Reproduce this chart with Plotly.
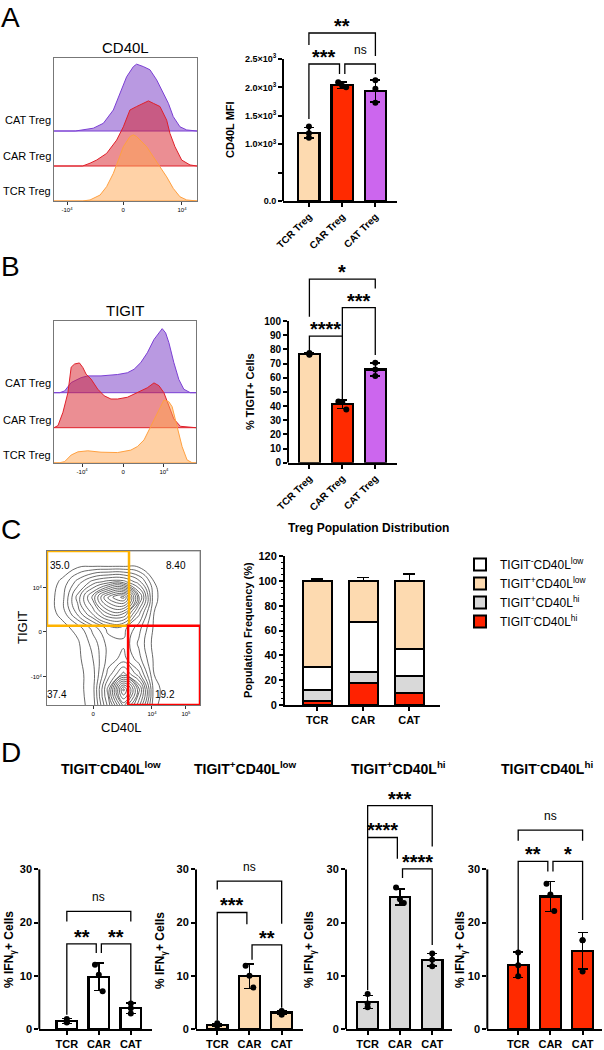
import plotly.graph_objects as go

W, H = 604, 1050
FONT = "Liberation Sans, Arial, sans-serif"

# ---------------- data ----------------
groups = ["TCR Treg", "CAR Treg", "CAT Treg"]
groups_short = ["TCR", "CAR", "CAT"]

# A - CD40L histograms (x: display channel 0-1000, h: height in row units)
cd40l_cat_x = [0, 150, 275, 345, 415, 462, 508, 555, 578, 625, 671, 718, 765, 800, 834, 881, 928, 1000]
cd40l_cat_h = [0, 0, 0.08, 0.22, 0.60, 1.07, 1.55, 1.84, 1.91, 1.84, 1.75, 1.46, 1.07, 0.79, 0.41, 0.12, 0.03, 0]
cd40l_car_x = [0, 200, 252, 298, 368, 438, 485, 531, 578, 625, 660, 695, 741, 788, 811, 846, 893, 951, 1000]
cd40l_car_h = [0, 0, 0.08, 0.17, 0.36, 0.74, 1.12, 1.60, 1.70, 1.79, 1.86, 1.79, 1.70, 1.31, 0.93, 0.55, 0.17, 0.03, 0]
cd40l_tcr_x = [0, 200, 252, 322, 368, 415, 450, 485, 531, 555, 578, 601, 648, 695, 741, 788, 834, 881, 928, 1000]
cd40l_tcr_h = [0, 0, 0.03, 0.17, 0.41, 0.79, 1.17, 1.55, 1.84, 1.89, 1.84, 1.74, 1.55, 1.26, 0.98, 0.69, 0.36, 0.12, 0.03, 0]

# A - CD40L MFI
mfi_mean = [1200, 2040, 1935]
mfi_sd = [95, 55, 195]
mfi_points = [[1310, 1195, 1115], [2090, 2030, 2005], [2125, 1975, 1730]]

# B - TIGIT histograms
tigit_cat_x = [0, 40, 75, 121, 191, 238, 331, 448, 517, 564, 611, 657, 704, 739, 762, 786, 809, 844, 879, 914, 960, 1000]
tigit_cat_h = [0, 0, 0.05, 0.29, 0.43, 0.48, 0.48, 0.52, 0.57, 0.67, 0.86, 1.14, 1.52, 1.71, 1.83, 1.71, 1.43, 0.86, 0.38, 0.10, 0, 0]
tigit_car_x = [0, 28, 63, 98, 121, 145, 179, 203, 226, 261, 308, 354, 401, 448, 517, 564, 611, 657, 704, 739, 774, 809, 844, 890, 984, 1000]
tigit_car_h = [0, 0.06, 0.44, 1.0, 1.73, 1.82, 1.85, 1.72, 1.53, 1.39, 1.10, 0.91, 0.82, 0.82, 0.87, 0.96, 1.05, 1.14, 1.28, 1.20, 1.0, 0.63, 0.25, 0.04, 0, 0]
tigit_tcr_x = [0, 40, 75, 121, 168, 238, 331, 448, 541, 587, 634, 681, 727, 774, 809, 832, 867, 902, 937, 972, 1000]
tigit_tcr_h = [0, 0, 0.03, 0.22, 0.31, 0.34, 0.30, 0.29, 0.36, 0.46, 0.65, 1.03, 1.41, 1.79, 1.74, 1.60, 1.03, 0.46, 0.08, 0, 0]

# B - % TIGIT+
tigit_mean = [76.8, 41.2, 65.8]
tigit_sd = [0.6, 3.0, 4.7]
tigit_points = [[76.2, 77.4, 76.6], [43.2, 42.8, 37.6], [70.5, 65.8, 61.2]]

# C - contour density grid (CD40L x TIGIT, display channels)
grid_x = [0, 100, 200, 300, 400, 500, 600, 700, 800, 1000]
grid_y = [0, 100, 200, 300, 400, 500, 600, 700, 800, 900, 1000]
density = [
    [0, 0, 0.1, 0.5, 3.0, 6.0, 3.5, 0.4, 0, 0],
    [0, 0, 0.1, 0.6, 3.5, 8.0, 4.5, 0.5, 0, 0],
    [0, 0, 0.1, 0.6, 2.5, 4.0, 2.5, 0.3, 0, 0],
    [0, 0, 0.15, 0.8, 2.0, 2.5, 1.5, 0.2, 0, 0],
    [0, 0, 0.2, 1.0, 2.0, 2.2, 1.2, 0.1, 0, 0],
    [0, 0.1, 0.5, 1.5, 2.5, 2.5, 1.5, 0.2, 0, 0],
    [0, 0.5, 2.0, 3.5, 5.0, 5.0, 2.5, 0.3, 0, 0],
    [0, 0.6, 2.5, 4.5, 7.0, 8.0, 4.0, 0.4, 0, 0],
    [0, 0.4, 1.5, 2.5, 3.0, 3.0, 2.0, 0.3, 0, 0],
    [0, 0, 0.2, 0.3, 0.3, 0.3, 0.2, 0, 0, 0],
    [0, 0, 0, 0, 0, 0, 0, 0, 0, 0],
]
quadrant_pct = ["35.0", "8.40", "37.4", "19.2"]

# C - population distribution (stack: bottom -> top)
pop_names = ["TIGIT<sup>-</sup>CD40L<sup>hi</sup>", "TIGIT<sup>+</sup>CD40L<sup>hi</sup>",
             "TIGIT<sup>-</sup>CD40L<sup>low</sup>", "TIGIT<sup>+</sup>CD40L<sup>low</sup>"]
pop_red = [3.5, 18.0, 10.0]
pop_gray = [8.5, 8.5, 13.0]
pop_white = [18.5, 40.0, 22.5]
pop_peach = [69.5, 33.5, 54.5]
pop_red_err = [1.0, 1.5, 2.0]
pop_gray_err = [1.5, 1.5, 1.5]
pop_white_err = [1.0, 3.5, 1.5]
pop_peach_err = [1.5, 2.5, 5.5]

# D - % IFNg+ per subset
ifng_titles = ["TIGIT<sup>-</sup>CD40L<sup>low</sup>", "TIGIT<sup>+</sup>CD40L<sup>low</sup>",
               "TIGIT<sup>+</sup>CD40L<sup>hi</sup>", "TIGIT<sup>-</sup>CD40L<sup>hi</sup>"]
ifng_mean = [[1.5, 9.8, 3.9], [0.8, 9.9, 3.1], [5.1, 24.8, 13.0], [12.1, 24.9, 14.7]]
ifng_sd = [[0.5, 2.6, 1.0], [0.2, 2.3, 0.4], [1.2, 1.5, 1.2], [2.4, 2.8, 3.4]]
ifng_points = [
    [[1.2, 1.9, 1.3], [12.1, 10.2, 7.1], [4.8, 3.9, 2.9]],
    [[0.6, 1.1, 0.8], [11.9, 10.0, 7.8], [3.4, 3.3, 2.7]],
    [[6.6, 4.8, 4.1], [26.6, 24.4, 23.7], [14.2, 13.0, 11.8]],
    [[14.4, 12.0, 9.9], [27.3, 25.3, 22.2], [16.7, 16.7, 10.8]],
]

# ---------------- styles ----------------
group_colors = ["#FDDAB0", "#FF2A00", "#CC66EE"]
hist_line = {"CAT": "#7B3FD4", "CAR": "#E0202A", "TCR": "#FFA040"}
hist_fill = {"CAT": "rgba(128,70,200,0.55)", "CAR": "rgba(215,30,40,0.5)", "TCR": "rgba(255,165,80,0.5)"}
ifng_colors = ["#FFFFFF", "#FDDAB0", "#D9D9D9", "#FF2A00"]
dot_offsets = [[0, 0, 0], [-0.12, 0.0, 0.12], [0, 0, 0]]


def PX(x):
    return x / W


def PY(y):
    return 1 - y / H


fig = go.Figure()
shapes = []
annotations = []
axes = {}


def ref(n, k):
    return k + ("" if n == 1 else str(n))


def axname(n, k):
    return k + "axis" + ("" if n == 1 else str(n))


def text(x, y, s, size=12, bold=False, **kw):
    kw.setdefault("xanchor", "center")
    kw.setdefault("yanchor", "middle")
    annotations.append(dict(x=PX(x), y=PY(y), xref="paper", yref="paper", text=s, showarrow=False,
                            font=dict(family=FONT, size=size, color="black", weight="bold" if bold else "normal"),
                            **kw))


BAR_AX = dict(showgrid=False, zeroline=False, linecolor="black", linewidth=2, ticks="outside",
              tickcolor="black", tickwidth=1.5, ticklen=4, automargin=False,
              tickfont=dict(family=FONT, size=10, color="black", weight="bold"))


def histogram(n, xdom, ydom, rows, tickvals, title, title_y, label_ys):
    xa, ya = ref(n, "x"), ref(n, "y")
    # rows drawn back to front: CAT (offset 2), CAR (1), TCR (0)
    for key, off, xs, hs in rows:
        px_ = list(xs) + [xs[-1], xs[0]]
        py_ = [off + h for h in hs] + [off, off]
        fig.add_trace(go.Scatter(x=px_, y=py_, mode="lines", fill="toself", fillcolor=hist_fill[key],
                                 line=dict(color=hist_line[key], width=1), xaxis=xa, yaxis=ya,
                                 showlegend=False, hoverinfo="skip"))
    axes[axname(n, "x")] = dict(domain=[PX(xdom[0]), PX(xdom[1])], range=[0, 1000], anchor=ya,
                                showgrid=False, zeroline=False, showline=True, mirror=True, automargin=False,
                                linecolor="#777", linewidth=1, ticks="outside", ticklen=3, tickwidth=1,
                                tickcolor="#333", tickvals=tickvals,
                                ticktext=["-10<sup>4</sup>", "0", "10<sup>4</sup>"],
                                tickfont=dict(family=FONT, size=6, color="black"))
    axes[axname(n, "y")] = dict(domain=[PY(ydom[1]), PY(ydom[0])], range=[0, (ydom[1] - ydom[0]) / 35.0],
                                anchor=xa, showgrid=False, zeroline=False, showline=True, mirror=True,
                                automargin=False, linecolor="#777", linewidth=1, showticklabels=False, ticks="")
    text((xdom[0] + xdom[1]) / 2, title_y, title, size=15)
    for lab, yy in zip(["CAT Treg", "CAR Treg", "TCR Treg"], label_ys):
        text(xdom[0] - 1, yy, lab, size=11, xanchor="right")


def bar_panel(n, xdom, ydom, xr, yr, names, mean, sd, pts, colors, yticks, yticktext, ymax,
              tickangle=0, xfont=10, yfont=10, width=0.64):
    xa, ya = ref(n, "x"), ref(n, "y")
    idx = list(range(len(names)))
    fig.add_trace(go.Bar(x=idx, y=mean, width=width,
                         marker=dict(color=colors, line=dict(color="black", width=2.2)),
                         error_y=dict(type="data", array=sd, color="black", thickness=1.5, width=5),
                         xaxis=xa, yaxis=ya, showlegend=False, hoverinfo="skip"))
    xs, ys = [], []
    for i, row in enumerate(pts):
        for j, v in enumerate(row):
            xs.append(i + dot_offsets[i][j])
            ys.append(v)
    fig.add_trace(go.Scatter(x=xs, y=ys, mode="markers", marker=dict(color="black", size=6),
                             xaxis=xa, yaxis=ya, showlegend=False, hoverinfo="skip"))
    xax = dict(BAR_AX)
    xax.update(domain=[PX(xdom[0]), PX(xdom[1])], range=xr, anchor=ya, showline=True,
               tickvals=idx, ticktext=names, tickangle=tickangle,
               tickfont=dict(family=FONT, size=xfont, color="black", weight="bold"))
    yax = dict(BAR_AX)
    yax.update(domain=[PY(ydom[1]), PY(ydom[0])], range=yr, anchor=xa, showline=False,
               tickvals=yticks, ticktext=yticktext,
               tickfont=dict(family=FONT, size=yfont, color="black", weight="bold"))
    axes[axname(n, "x")] = xax
    axes[axname(n, "y")] = yax
    shapes.append(dict(type="line", xref=xa + " domain", x0=0, x1=0, yref=ya, y0=0, y1=ymax,
                       line=dict(color="black", width=2)))


def brackets(n, specs):
    xa, ya = ref(n, "x"), ref(n, "y")
    bx, by = [], []
    for label, i, j, y, li, lj in specs:
        bx += [i, i, j, j, None]
        by += [li, y, y, lj, None]
        if label == "ns":
            font = dict(family=FONT, size=12, color="black")
            ys = 5
        else:
            font = dict(family=FONT, size=20, color="black", weight="bold")
            ys = -6
        annotations.append(dict(x=(i + j) / 2, y=y, xref=xa, yref=ya, text=label, showarrow=False,
                                xanchor="center", yanchor="bottom", yshift=ys, font=font))
    fig.add_trace(go.Scatter(x=bx, y=by, mode="lines", line=dict(color="black", width=1.3),
                             xaxis=xa, yaxis=ya, showlegend=False, hoverinfo="skip"))


# ---------------- panel A ----------------
histogram(1, (54, 197), (58, 201),
          [("CAT", 2, cd40l_cat_x, cd40l_cat_h), ("CAR", 1, cd40l_car_x, cd40l_car_h),
           ("TCR", 0, cd40l_tcr_x, cd40l_tcr_h)],
          [91, 483, 895], "CD40L", 48, [120, 156, 191])

bar_panel(2, (283, 397), (25, 201), [-0.78, 2.65], [0, 3099], groups, mfi_mean, mfi_sd, mfi_points,
          group_colors, [0, 500, 1000, 1500, 2000, 2500],
          ["0.0", "", "1.0×10<sup>3</sup>", "1.5×10<sup>3</sup>", "2.0×10<sup>3</sup>", "2.5×10<sup>3</sup>"],
          2500, tickangle=-45, xfont=10, yfont=9)
brackets(2, [("**", 0, 2, 2958, 2746, 2553), ("***", 0, 0.92, 2412, 1444, 2236),
             ("ns", 1.08, 2, 2412, 2236, 2236)])
text(230, 130, "CD40L MFI", size=11, bold=True, textangle=-90)

# ---------------- panel B ----------------
histogram(3, (54, 196), (320.7, 462.7),
          [("CAT", 2, tigit_cat_x, tigit_cat_h), ("CAR", 1, tigit_car_x, tigit_car_h),
           ("TCR", 0, tigit_tcr_x, tigit_tcr_h)],
          [198, 487, 774], "TIGIT", 310, [383, 420, 455])

bar_panel(4, (288, 397), (270, 462.7), [-0.65, 2.66], [0, 136], groups, tigit_mean, tigit_sd, tigit_points,
          group_colors, list(range(0, 101, 10)), [str(v) for v in range(0, 101, 10)], 100,
          tickangle=-45, xfont=10, yfont=10)
brackets(4, [("*", 0, 2, 129.6, 103, 123), ("***", 1, 2, 109.4, 89.4, 76),
             ("****", 0, 1, 89.4, 78.5, 44.5)])
text(250, 392, "% TIGIT+ Cells", size=11, bold=True, textangle=-90)

# ---------------- panel C: contour ----------------
fig.add_trace(go.Contour(x=grid_x, y=grid_y, z=density, xaxis="x5", yaxis="y5", showscale=False,
                         contours=dict(coloring="lines", start=0.3, end=8, size=0.5),
                         colorscale=[[0, "#444"], [1, "#444"]], line=dict(width=0.8, smoothing=1.3),
                         hoverinfo="skip"))
axes["xaxis5"] = dict(domain=[PX(47), PX(200)], range=[0, 1000], anchor="y5", showgrid=False,
                      zeroline=False, showline=True, mirror=True, linecolor="#777", linewidth=1,
                      ticks="outside", ticklen=3, tickwidth=1, tickcolor="#333", automargin=False,
                      tickvals=[301, 686, 908], ticktext=["0", "10<sup>4</sup>", "10<sup>5</sup>"],
                      tickfont=dict(family=FONT, size=6, color="black"))
axes["yaxis5"] = dict(domain=[PY(705), PY(551)], range=[0, 1000], anchor="x5", showgrid=False,
                      zeroline=False, showline=True, mirror=True, linecolor="#777", linewidth=1,
                      ticks="outside", ticklen=3, tickwidth=1, tickcolor="#333", automargin=False,
                      tickvals=[182, 476, 760], ticktext=["-10<sup>4</sup>", "0", "10<sup>4</sup>"],
                      tickfont=dict(family=FONT, size=6, color="black"))
shapes.append(dict(type="rect", xref="x5", yref="y5", x0=536, x1=1000, y0=515, y1=1000,
                   line=dict(color="#999", width=1)))
shapes.append(dict(type="rect", xref="x5", yref="y5", x0=0, x1=536, y0=515, y1=1000,
                   line=dict(color="#FFB300", width=2.5)))
shapes.append(dict(type="rect", xref="x5", yref="y5", x0=530, x1=1000, y0=0, y1=515,
                   line=dict(color="#FF0000", width=2.5)))
for lab, (qx, qy) in zip(quadrant_pct, [(85, 909), (843, 909), (65, 71), (771, 71)]):
    annotations.append(dict(x=qx, y=qy, xref="x5", yref="y5", text=lab, showarrow=False,
                            xanchor="center", yanchor="middle",
                            font=dict(family=FONT, size=10, color="black")))
text(22, 628, "TIGIT", size=13, textangle=-90)
text(121, 727, "CD40L", size=13)

# ---------------- panel C: stacked ----------------
stack = [(pop_names[0], pop_red, pop_red_err, "#FF2200", "#888", 4),
         (pop_names[1], pop_gray, pop_gray_err, "#D9D9D9", "#888", 3),
         (pop_names[2], pop_white, pop_white_err, "#FFFFFF", "#888", 1),
         (pop_names[3], pop_peach, pop_peach_err, "#FDDAB0", "black", 2)]
for name, vals, err, col, ecol, rank in stack:
    fig.add_trace(go.Bar(x=list(range(len(groups_short))), y=vals, name=name, width=0.63,
                         marker=dict(color=col, line=dict(color="black", width=2)),
                         error_y=dict(type="data", array=err, arrayminus=[0] * len(err), symmetric=False,
                                      color=ecol, thickness=1.3, width=6),
                         xaxis="x6", yaxis="y6", legendrank=rank, hoverinfo="skip"))
sx = dict(BAR_AX)
sx.update(domain=[PX(285), PX(440)], range=[-0.7, 2.67], anchor="y6", showline=True,
          tickvals=[0, 1, 2], ticktext=groups_short,
          tickfont=dict(family=FONT, size=11, color="black", weight="bold"))
sy = dict(BAR_AX)
sy.update(domain=[PY(705), PY(556)], range=[0, 120], anchor="x6", showline=True, dtick=20,
          minor=dict(dtick=5, ticks="outside", ticklen=2, tickcolor="black", tickwidth=1),
          tickfont=dict(family=FONT, size=11, color="black", weight="bold"))
axes["xaxis6"] = sx
axes["yaxis6"] = sy
text(368, 528, "Treg Population Distribution", size=12, bold=True)
text(248, 630, "Population Frequency (%)", size=11, bold=True, textangle=-90)

# ---------------- panel D ----------------
d_xdoms = [(39.3, 151.6), (196, 302.6), (346, 451.6), (487.3, 601.9)]
d_xranges = [[-0.86, 2.65], [-0.66, 2.65], [-0.67, 2.6], [-0.96, 2.6]]
d_title_x = [111, 245, 398, 547]
d_ytitle_x = [10, 161, 310, 461]
d_brackets = [
    [("ns", 0, 2, 22.1, 20.2, 20.2), ("**", 0, 0.92, 16.0, 2.7, 14.3), ("**", 1.08, 2, 16.0, 14.3, 5.2)],
    [("ns", 0, 2, 27.8, 26.2, 19.8), ("***", 0, 0.92, 21.9, 1.6, 19.7), ("**", 1.08, 2, 15.8, 13.0, 4.0)],
    [("***", 0, 2, 42.0, 36.0, 34.3), ("****", 0, 0.92, 36.0, 7.3, 32.0), ("****", 1.08, 2, 30.1, 28.4, 15.8)],
    [("ns", 0, 2, 37.4, 35.4, 35.4), ("**", 0, 0.92, 31.5, 14.8, 29.6), ("*", 1.08, 2, 31.5, 29.6, 20.5)],
]
for k in range(4):
    n = 7 + k
    bar_panel(n, d_xdoms[k], (790, 1029), d_xranges[k], [0, (1029 - 790) / 5.32], groups_short,
              ifng_mean[k], ifng_sd[k], ifng_points[k], [ifng_colors[k]] * 3,
              [0, 10, 20, 30], ["0", "10", "20", "30"], 30, xfont=11, yfont=11)
    brackets(n, d_brackets[k])
    text(d_title_x[k], 768, "<b>" + ifng_titles[k] + "</b>", size=14)
    text(d_ytitle_x[k], 950, "% IFN<sub>γ</sub>+ Cells", size=12, bold=True, textangle=-90)

# ---------------- panel letters ----------------
for letter, ly in [("A", 18), ("B", 267), ("C", 529), ("D", 752)]:
    text(-1, ly, letter, size=28, xanchor="left")

fig.update_layout(
    width=W, height=H, margin=dict(l=0, r=0, t=0, b=0, autoexpand=False),
    paper_bgcolor="white", plot_bgcolor="rgba(0,0,0,0)",
    font=dict(family=FONT, color="black"),
    barmode="stack",
    showlegend=True,
    legend=dict(x=PX(460), y=PY(550), xanchor="left", yanchor="top", bgcolor="rgba(0,0,0,0)",
                traceorder="normal", font=dict(family=FONT, size=12, color="black"),
                itemwidth=30, tracegroupgap=0),
    shapes=shapes, annotations=annotations,
    **axes,
)

# page body has a default 8px margin; drop it so the figure sits at the window origin
fig.write_html("out.html", config={"displayModeBar": False},
               post_script="document.body.style.margin = '0px';")
